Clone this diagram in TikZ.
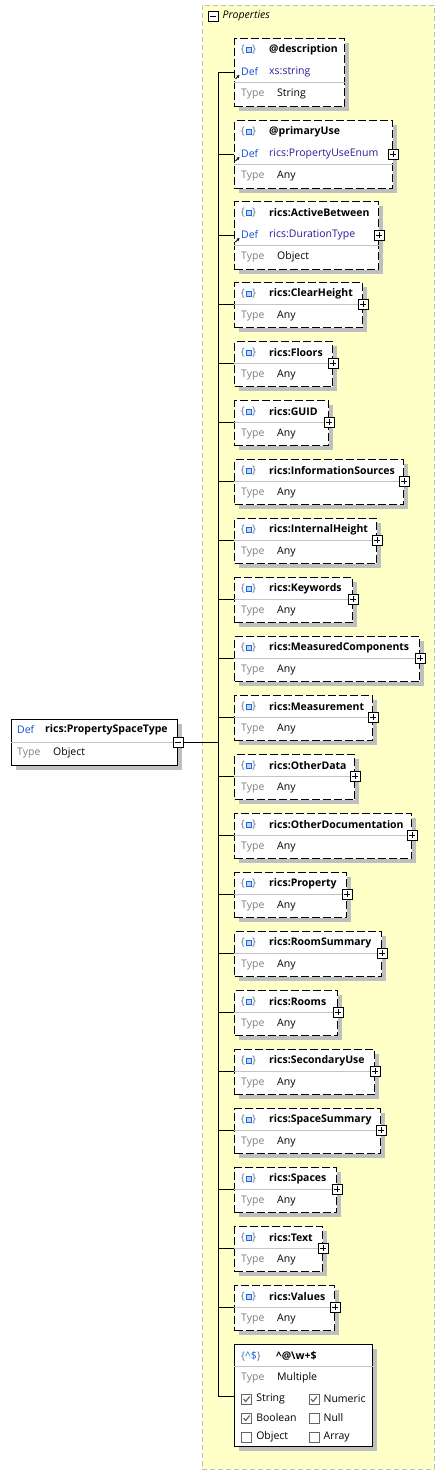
\documentclass[tikz,border=0pt]{standalone}
\usepackage{fontspec}
\setmainfont{Open Sans}
\usetikzlibrary{shadows, arrows.meta, positioning}

\definecolor{defblue}{RGB}{20,80,210}
\definecolor{defval}{RGB}{40,30,150}
\definecolor{typegray}{RGB}{128,128,128}
\definecolor{sepgray}{RGB}{195,195,195}
\definecolor{panel}{RGB}{255,255,200}
\definecolor{panelline}{RGB}{190,190,190}
\definecolor{bracec}{RGB}{90,120,160}
\definecolor{sqblue}{RGB}{30,100,220}
\definecolor{sqfill}{RGB}{190,215,255}
\newcommand\uifont{\fontsize{10.5}{12}\selectfont}

\tikzset{
	box/.style={draw, line width=1pt, fill=white, anchor=north west, inner sep=0pt, minimum height=45pt,
		drop shadow={shadow xshift=4pt, shadow yshift=-4pt, fill=black!25, opacity=1}},
	elem/.style={box, dash pattern=on 8pt off 3pt},
	panelbox/.style={draw=panelline, fill=panel, dash pattern=on 5pt off 3pt, anchor=north west, inner sep=0pt},
	txt/.style={anchor=west, inner sep=0pt, font=\uifont},
	ttl/.style={txt, font=\uifont\bfseries},
	deflbl/.style={txt, text=defblue},
	dval/.style={txt, text=defval},
	typelbl/.style={txt, text=typegray},
	rule/.style={draw=sepgray, line width=1pt},
	conn/.style={line width=1pt},
	defarrow/.style={-{Stealth[length=3pt,width=3pt]}, line width=0.8pt},
	brace/.style={inner sep=0.6pt, font=\uifont, text=bracec},
	icon/.style={draw=sqblue, fill=sqfill, line width=0.8pt, minimum width=5pt, minimum height=5pt, inner sep=0pt,
		label={[brace]left:\{}, label={[brace]right:\}}},
	tglbox/.style={draw, fill=white, line width=0.8pt, minimum size=10pt, inner sep=0pt},
	collapser/.style={tglbox,
		path picture={\draw[line width=0.8pt] ([xshift=2pt]path picture bounding box.west) -- ([xshift=-2pt]path picture bounding box.east);}},
	expander/.style={tglbox,
		path picture={\draw[line width=0.8pt] ([xshift=2pt]path picture bounding box.west) -- ([xshift=-2pt]path picture bounding box.east)
			([yshift=-2pt]path picture bounding box.north) -- ([yshift=2pt]path picture bounding box.south);}},
	chk/.style={draw=black!60, fill=white, line width=0.8pt, minimum size=10pt, inner sep=0pt},
	tick/.style={chk,
		path picture={\draw[line width=1.2pt] ([xshift=2pt]path picture bounding box.west) -- ([xshift=-1pt,yshift=2.5pt]path picture bounding box.south) -- ([xshift=-2pt,yshift=-2.5pt]path picture bounding box.north east);}}
}

\begin{document}
\begin{tikzpicture}[x=1pt, y=-1pt]
	\useasboundingbox[fill=white] (0,0) rectangle (445,1475);

	\node[panelbox, minimum width=232pt, minimum height=1464pt] (props) at (202,5) {};
	\node[collapser] (pc) at (213,16) {};
	\node[txt, font=\uifont\itshape, right=4pt of pc] (ph) {Properties};

	\node[box, minimum width=166pt, minimum height=46pt] (root) at (11,719) {};
	\node[deflbl] (rd) at (17,730) {Def};
	\node[ttl] (rn) at (45,730) {rics:PropertySpaceType};
	\draw[rule] ([yshift=-23pt]root.north west) -- ([yshift=-23pt]root.north east);
	\node[typelbl] (rk) at (17,753) {Type};
	\node[txt] (rv) at (53,753) {Object};
	\coordinate (jm) at (218,742);
	\node[collapser] (rc) at (root.east |- jm) {};
	\draw[conn] (rc) -- (jm);

	\foreach \tl/\dv/\tv/\w/\y/\ex [count=\i] in {@description/xs:string/String/110/38/0,
		@primaryUse/rics:PropertyUseEnum/Any/158/120/1, rics:ActiveBetween/rics:DurationType/Object/144/201/1}{
		\node[elem, minimum width=\w pt, minimum height=68pt] (a\i) at (234,\y) {};
		\node[icon] (ai\i) at (248.5,\y+12) {};
		\node[ttl] (at\i) at (269,\y+12) {\tl};
		\draw[defarrow] (235.5,\y+41) -- (239.5,\y+37);
		\node[deflbl] (ad\i) at (241,\y+34) {Def};
		\node[dval] (av\i) at (269,\y+34) {\dv};
		\draw[rule] ([yshift=-44pt]a\i.north west) -- ([yshift=-44pt]a\i.north east);
		\node[typelbl] (ak\i) at (241,\y+56) {Type};
		\node[txt] (aw\i) at (277,\y+56) {\tv};
		\coordinate (ja\i) at (218,\y+34);
		\draw[conn] (ja\i) -- (a\i.west |- ja\i);
		\ifnum\ex=1 \node[expander] (ax\i) at (a\i.east |- ja\i) {};\fi
	}

	\foreach \n/\w [count=\i, evaluate=\i as \y using {282+59*(\i-1)}] in {ClearHeight/128, Floors/98, GUID/94,
		InformationSources/169, InternalHeight/142, Keywords/118, MeasuredComponents/185, Measurement/138,
		OtherData/120, OtherDocumentation/177, Property/112, RoomSummary/147, Rooms/103, SecondaryUse/140,
		SpaceSummary/146, Spaces/102, Text/88, Values/100}{
		\node[elem, minimum width=\w pt] (e\i) at (234,\y) {};
		\node[icon] (ei\i) at (248.5,\y+12) {};
		\node[ttl] (et\i) at (269,\y+12) {rics:\n};
		\draw[rule] ([yshift=-22pt]e\i.north west) -- ([yshift=-22pt]e\i.north east);
		\node[typelbl] (ek\i) at (241,\y+34) {Type};
		\node[txt] (ev\i) at (277,\y+34) {Any};
		\coordinate (je\i) at (218,\y+22);
		\draw[conn] (je\i) -- (e\i.west |- je\i);
		\node[expander] (ex\i) at (e\i.east |- je\i) {};
	}

	\node[box, minimum width=138pt, minimum height=102pt] (pat) at (234,1344) {};
	\node[txt, text=bracec] (pi) at (241,1356) {\{\textcolor{sqblue}{\textasciicircum\$}\}};
	\node[ttl] (pn) at (276,1356) {\textasciicircum @\textbackslash w+\$};
	\draw[rule] ([yshift=-22pt]pat.north west) -- ([yshift=-22pt]pat.north east);
	\node[typelbl] (pk) at (241,1378) {Type};
	\node[txt] (pv) at (277,1378) {Multiple};
	\foreach \lbl/\c/\cx/\cy in {String/tick/246.7/1399, Numeric/tick/314/1399, Boolean/tick/246.7/1418,
		Null/chk/314/1418, Object/chk/246.7/1437, Array/chk/314/1437}{
		\node[\c] (c\lbl) at (\cx,\cy) {};
		\node[txt, right=4pt of c\lbl] (l\lbl) {\lbl};
	}
	\coordinate (jp) at (218,1396);
	\draw[conn] (jp) -- (pat.west |- jp);

	\draw[conn] (ja1) -- (jp);
\end{tikzpicture}
\end{document}
